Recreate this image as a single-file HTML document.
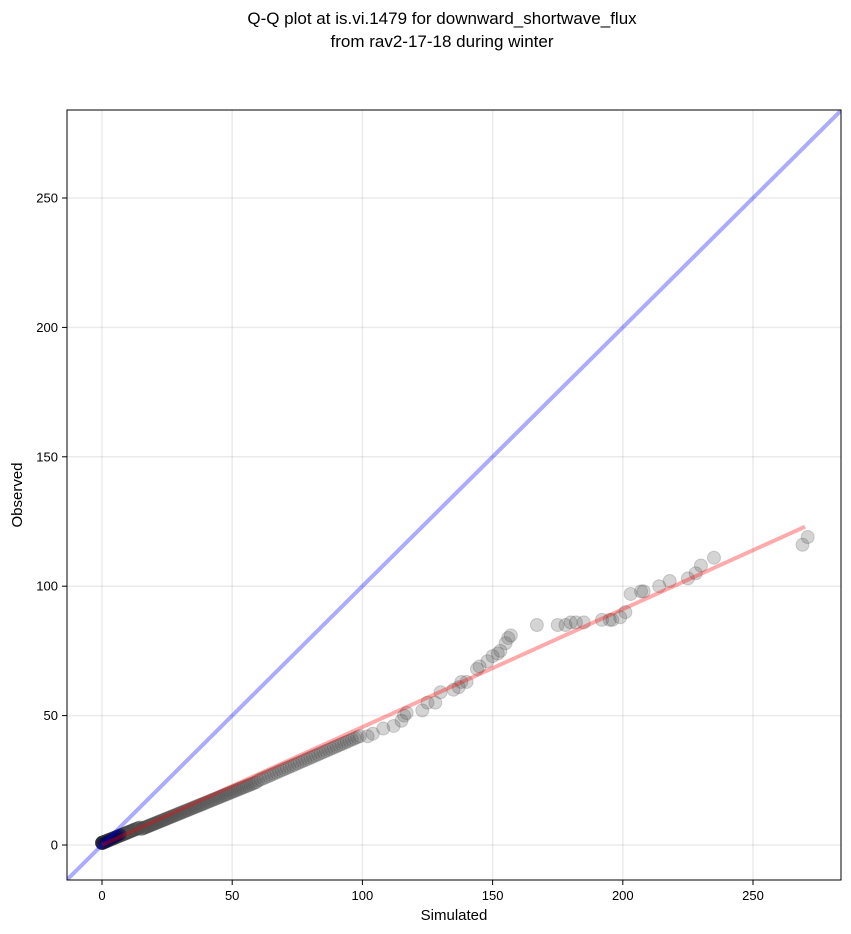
<!DOCTYPE html>
<html><head><meta charset="utf-8"><style>
body{margin:0;background:#fff;}
svg{display:block;font-family:"Liberation Sans","DejaVu Sans",sans-serif;}
</style></head><body>
<svg id="s" width="851" height="934" xmlns="http://www.w3.org/2000/svg">
<rect width="851" height="934" fill="#fff"/>
<text x="442" y="24" font-size="17" text-anchor="middle">Q-Q plot at is.vi.1479 for downward_shortwave_flux</text>
<text x="442" y="47" font-size="17" text-anchor="middle">from rav2-17-18 during winter</text>
<defs><clipPath id="c"><rect x="67" y="110" width="774" height="770"/></clipPath></defs>
<g id="grid" stroke="#000" stroke-opacity="0.08" stroke-width="1.5"></g>
<g id="pts" clip-path="url(#c)"></g>
<g clip-path="url(#c)">
<line id="blue" stroke="#0000ff" stroke-opacity="0.33" stroke-width="4"/>
<line id="red" stroke="#ff0000" stroke-opacity="0.33" stroke-width="4"/>
</g>
<rect x="67" y="110" width="774" height="770" fill="none" stroke="#000" stroke-width="1"/>
<g id="ticks" font-size="13"></g>
<text x="454" y="920" font-size="15" text-anchor="middle">Simulated</text>
<text x="22" y="495" font-size="15" text-anchor="middle" transform="rotate(-90 22 495)">Observed</text>
</svg>
<script>
const NS="http://www.w3.org/2000/svg";
const X=v=>102+v*2.604, Y=v=>845-v*2.588;
function el(p,t,a,txt){const e=document.createElementNS(NS,t);for(const k in a)e.setAttribute(k,a[k]);if(txt!=null)e.textContent=txt;document.getElementById(p).appendChild(e);return e;}
for(let v=0;v<=250;v+=50){
 el("grid","line",{x1:X(v),x2:X(v),y1:110,y2:880});
 el("grid","line",{x1:67,x2:841,y1:Y(v),y2:Y(v)});
 el("ticks","line",{x1:X(v),x2:X(v),y1:880,y2:885,stroke:"#000"});
 el("ticks","text",{x:X(v),y:900,"text-anchor":"middle"},v);
 el("ticks","line",{x1:62,x2:67,y1:Y(v),y2:Y(v),stroke:"#000"});
 el("ticks","text",{x:58,y:Y(v)+4.5,"text-anchor":"end"},v);
}
const b=document.getElementById("blue");b.setAttribute("x1",X(-20));b.setAttribute("y1",Y(-20));b.setAttribute("x2",X(300));b.setAttribute("y2",Y(300));
const r=document.getElementById("red");r.setAttribute("x1",X(0));r.setAttribute("y1",Y(0));r.setAttribute("x2",X(270));r.setAttribute("y2",Y(123));
const pts=[];
for(let i=0;i<160;i++){const x=Math.pow(i/160,2.0)*60;pts.push([x,x*0.41+(x<15?0.8:0)]);}
for(let i=0;i<40;i++){const x=60+i*1.0;pts.push([x,x*0.44-1.5]);}
const extra=[[102,42],[104,43],[108,45],[112,46],[115,48],[116,50],[117,51],[123,52],[125,55],[128,55],[130,59],[135,60],[137,61],[138,63],[140,63],[144,68],[145,69],[148,71],[150,73],[152,74],[153,75],[155,78],[156,80],[157,81],[167,85],[175,85],[178,85],[180,86],[182,86],[185,86],[192,87],[195,87],[196,87],[199,88],[201,90],[203,97],[207,98],[208,98],[214,100],[218,102],[225,103],[228,105],[230,108],[235,111],[269,116],[271,119]];
extra.forEach(p=>pts.push(p));
pts.forEach(p=>el("pts","circle",{cx:X(p[0]),cy:Y(p[1]),r:6.5,fill:"#555","fill-opacity":0.25,stroke:"#333","stroke-opacity":0.2,"stroke-width":1}));
for(let i=0;i<10;i++){const x=i*0.8;el("pts","circle",{cx:X(x),cy:Y(x*0.5+0.5),r:6,fill:"#000050","fill-opacity":0.4});}
</script>
</body></html>
